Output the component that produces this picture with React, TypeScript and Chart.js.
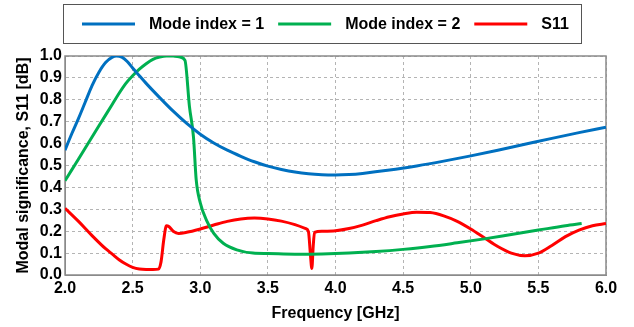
import React, { useEffect, useRef } from 'react';
import { Chart, registerables } from 'chart.js';

Chart.register(...registerables);

// ---- Data ----
const mode1Freq = [2.0, 2.05, 2.1, 2.15, 2.2, 2.25, 2.3, 2.35, 2.38, 2.42, 2.46, 2.5, 2.55, 2.6, 2.7, 2.8, 2.9, 3.0, 3.1, 3.2, 3.3, 3.4, 3.5, 3.6, 3.7, 3.8, 3.9, 4.0, 4.1, 4.2, 4.4, 4.6, 4.8, 5.0, 5.2, 5.4, 5.6, 5.8, 6.0];
const mode1Values = [0.57, 0.645, 0.715, 0.79, 0.865, 0.925, 0.97, 0.995, 1.0, 0.995, 0.975, 0.945, 0.91, 0.875, 0.81, 0.748, 0.692, 0.643, 0.603, 0.57, 0.542, 0.517, 0.497, 0.482, 0.47, 0.462, 0.458, 0.457, 0.459, 0.464, 0.479, 0.498, 0.52, 0.544, 0.57, 0.597, 0.624, 0.65, 0.675];

const mode2Freq = [2.0, 2.05, 2.1, 2.15, 2.2, 2.25, 2.3, 2.35, 2.4, 2.45, 2.5, 2.55, 2.6, 2.65, 2.7, 2.75, 2.8, 2.85, 2.887, 2.92, 2.95, 2.97, 3.0, 3.05, 3.1, 3.17, 3.27, 3.39, 3.5, 3.7, 3.9, 4.1, 4.3, 4.5, 4.7, 4.9, 5.1, 5.3, 5.5, 5.7, 5.82];
const mode2Values = [0.43, 0.48, 0.53, 0.58, 0.63, 0.68, 0.73, 0.78, 0.83, 0.875, 0.91, 0.94, 0.965, 0.985, 0.995, 1.0, 1.0, 0.995, 0.98, 0.77, 0.63, 0.435, 0.33, 0.245, 0.19, 0.145, 0.115, 0.1, 0.098, 0.095, 0.096, 0.1, 0.107, 0.117, 0.13, 0.147, 0.165, 0.185, 0.205, 0.225, 0.235];

const s11Freq = [2.0, 2.1, 2.2, 2.3, 2.35, 2.4, 2.45, 2.5, 2.55, 2.6, 2.65, 2.69, 2.71, 2.73, 2.75, 2.77, 2.8, 2.84, 2.9, 3.0, 3.1, 3.2, 3.3, 3.4, 3.5, 3.6, 3.7, 3.78, 3.8, 3.815, 3.825, 3.835, 3.845, 3.9, 4.0, 4.1, 4.2, 4.3, 4.4, 4.5, 4.6, 4.7, 4.8, 4.9, 5.0, 5.1, 5.2, 5.3, 5.4, 5.5, 5.6, 5.7, 5.8, 5.9, 6.0];
const s11Values = [0.305, 0.245, 0.18, 0.12, 0.095, 0.07, 0.05, 0.035, 0.027, 0.025, 0.025, 0.027, 0.06, 0.16, 0.225, 0.22, 0.2, 0.19, 0.195, 0.21, 0.228, 0.245, 0.256, 0.26, 0.256, 0.246, 0.23, 0.212, 0.198, 0.09, 0.03, 0.13, 0.195, 0.2, 0.202, 0.212, 0.228, 0.248, 0.266, 0.279, 0.287, 0.285, 0.27, 0.245, 0.21, 0.17, 0.13, 0.1, 0.088, 0.1, 0.135, 0.175, 0.205, 0.225, 0.235];

const xTickValues = [2.0, 2.5, 3.0, 3.5, 4.0, 4.5, 5.0, 5.5, 6.0];
const yTickValues = [0.0, 0.1, 0.2, 0.3, 0.4, 0.5, 0.6, 0.7, 0.8, 0.9, 1.0];

const seriesNames = ['Mode index = 1', 'Mode index = 2', 'S11'];
const seriesColors = ['#0070C0', '#00B050', '#FF0000'];
const xTitle = 'Frequency [GHz]';
const yTitle = 'Modal significance, S11 [dB]';

const FONT_FAMILY = '"Liberation Sans", Arial, sans-serif';

export default function App() {
  const ref = useRef<HTMLCanvasElement>(null);

  useEffect(() => {
    if (!ref.current) return;
    const toPts = (f: number[], v: number[]) => f.map((x, i) => ({ x, y: v[i] }));

    const framePlugin = {
      id: 'frame',
      beforeDatasetsDraw(chart: any) {
        const { ctx, chartArea } = chart;
        const { left, top, right, bottom } = chartArea;
        ctx.save();
        ctx.strokeStyle = '#8a8a8a';
        ctx.lineWidth = 1.5;
        ctx.strokeRect(left, top, right - left, bottom - top);
        ctx.restore();
      },
    };

    const legendPlugin = {
      id: 'boxLegend',
      afterDraw(chart: any) {
        const { ctx } = chart;
        ctx.save();
        ctx.strokeStyle = '#555555';
        ctx.lineWidth = 1;
        ctx.strokeRect(63.5, 4.5, 518, 39);
        ctx.font = `bold 16px ${FONT_FAMILY}`;
        ctx.textBaseline = 'middle';
        ctx.textAlign = 'left';
        const lineLen = 53;
        const gapText = 14;
        const gapItem = 14;
        const y = 24;
        let x = 82;
        seriesNames.forEach((name, i) => {
          ctx.strokeStyle = seriesColors[i];
          ctx.lineWidth = 3;
          ctx.beginPath();
          ctx.moveTo(x, y);
          ctx.lineTo(x + lineLen, y);
          ctx.stroke();
          ctx.fillStyle = '#000';
          ctx.fillText(name, x + lineLen + gapText, y + 1);
          x += lineLen + gapText + ctx.measureText(name).width + gapItem;
        });
        ctx.restore();
      },
    };

    const tickFont = { family: FONT_FAMILY, size: 16, weight: 'bold' as const };

    const chart = new Chart(ref.current, {
      type: 'line',
      data: {
        datasets: [
          { label: seriesNames[0], data: toPts(mode1Freq, mode1Values), borderColor: seriesColors[0], backgroundColor: seriesColors[0] },
          { label: seriesNames[1], data: toPts(mode2Freq, mode2Values), borderColor: seriesColors[1], backgroundColor: seriesColors[1] },
          { label: seriesNames[2], data: toPts(s11Freq, s11Values), borderColor: seriesColors[2], backgroundColor: seriesColors[2] },
        ],
      },
      options: {
        responsive: false,
        animation: false,
        layout: { padding: { top: 56, right: 28, bottom: 0, left: 10 } },
        elements: {
          point: { radius: 0, hoverRadius: 0 },
          line: { borderWidth: 3, cubicInterpolationMode: 'monotone', fill: false },
        },
        plugins: { legend: { display: false }, tooltip: { enabled: false } },
        scales: {
          x: {
            type: 'linear',
            min: 2,
            max: 6,
            afterBuildTicks: (s: any) => { s.ticks = xTickValues.map((v) => ({ value: v })); },
            ticks: {
              autoSkip: false,
              maxRotation: 0,
              padding: 4,
              color: '#000',
              font: tickFont,
              callback: (v: any) => Number(v).toFixed(1),
            },
            grid: { color: '#b4b4b4', lineWidth: 1, drawTicks: false },
            border: { color: '#8a8a8a', dash: [3, 3] },
            title: { display: true, text: xTitle, color: '#000', font: tickFont, padding: { top: 6, bottom: 4 } },
            afterFit: (s: any) => { s.height = 52; },
          },
          y: {
            type: 'linear',
            min: 0,
            max: 1,
            afterBuildTicks: (s: any) => { s.ticks = yTickValues.map((v) => ({ value: v })); },
            ticks: {
              autoSkip: false,
              padding: 3,
              color: '#000',
              font: tickFont,
              callback: (v: any) => Number(v).toFixed(1),
            },
            grid: { color: '#b4b4b4', lineWidth: 1, drawTicks: false },
            border: { color: '#8a8a8a', dash: [3, 3] },
            title: { display: true, text: yTitle, color: '#000', font: tickFont, padding: { top: 4, bottom: 4 } },
            afterFit: (s: any) => { s.width = 55; },
          },
        },
      },
      plugins: [framePlugin, legendPlugin],
    });
    return () => chart.destroy();
  }, []);

  return (
    <div style={{ position: 'absolute', left: 0, top: 0, width: 634, height: 327, background: '#fff' }}>
      <canvas ref={ref} width={634} height={327} style={{ display: 'block' }} />
    </div>
  );
}
